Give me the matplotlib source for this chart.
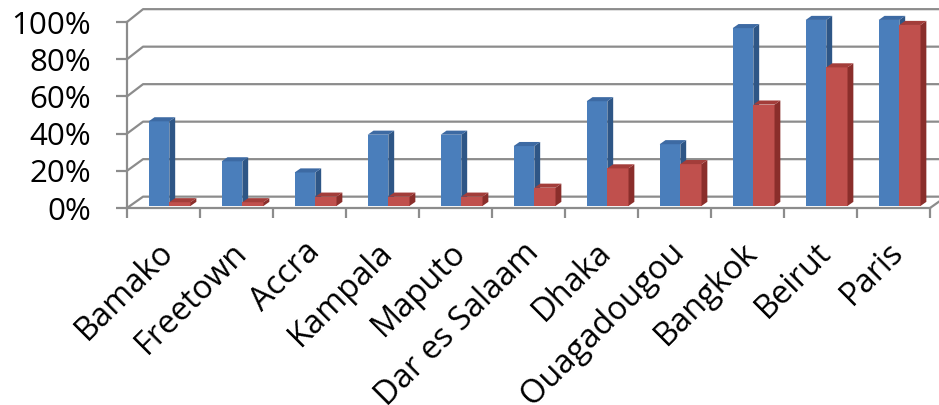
import matplotlib
matplotlib.use("Agg")
import matplotlib.pyplot as plt
from matplotlib.patches import Polygon
from matplotlib.transforms import ScaledTranslation

plt.rcParams['font.family'] = ['Open Sans', 'DejaVu Sans']

# data
cities = ["Bamako", "Freetown", "Accra", "Kampala", "Maputo", "Dar es Salaam",
          "Dhaka", "Ouagadougou", "Bangkok", "Beirut", "Paris"]
series_a = [45.5, 24, 18, 38.3, 38.3, 32.2, 56.3, 33.2, 95.6, 100, 100]
series_b = [2, 2, 5, 5, 5, 9.8, 20.2, 22.5, 54.5, 74.5, 97.3]
yticks = [0, 20, 40, 60, 80, 100]

grey = "#8c8c8c"
blue = ("#4a7ebb", "#2e5686", "#3d6aa3")   # front, side, top
red = ("#c0504d", "#8a2e2b", "#a33d3a")

fig = plt.figure(figsize=(9.39, 4.05), dpi=100)
ax = fig.add_axes([127/939, (405-208)/405, (930-127)/939, (208-22)/405])
ax.set_xlim(0, 11)
ax.set_ylim(0, 100)

# back wall / side wall grid (pseudo 3d)
wx, wy0, wsc = 0.22, 6.1, 1.008
for v in yticks:
    yb = v * wsc + wy0
    ax.plot([0, wx, 11.3], [v, yb, yb], color=grey, lw=1.6,
            clip_on=False, zorder=1, solid_capstyle='butt')
ax.plot([11, 11 + wx], [0, wy0], color=grey, lw=1.6, clip_on=False, zorder=1)

base = 1.1
dx, dy = 0.08, 2.2


def bar3d(x0, w, h, cols):
    front, side, top = cols
    ax.bar(x0, h, width=w, bottom=base, align='edge', color=front,
           edgecolor='none', zorder=3, clip_on=False)
    x1 = x0 + w
    ax.add_patch(Polygon([(x1, base), (x1 + dx, base + dy),
                          (x1 + dx, base + h + dy), (x1, base + h)],
                         closed=True, facecolor=side, edgecolor='none',
                         zorder=3, clip_on=False))
    ax.add_patch(Polygon([(x0, base + h), (x1, base + h),
                          (x1 + dx, base + h + dy), (x0 + dx, base + h + dy)],
                         closed=True, facecolor=top, edgecolor='none',
                         zorder=3, clip_on=False))


for i in range(len(cities)):
    bar3d(i + 0.297, 0.283, series_a[i], blue)
    bar3d(i + 0.58, 0.29, series_b[i], red)

for s in ['top', 'right']:
    ax.spines[s].set_visible(False)
for s in ['left', 'bottom']:
    ax.spines[s].set_color(grey)
    ax.spines[s].set_linewidth(1.6)
    ax.spines[s].set_zorder(4)

ax.set_yticks(yticks)
ax.set_yticklabels([f"{v}%" for v in yticks])
ax.tick_params(axis='y', length=8, width=1.6, color=grey, pad=18,
               labelsize=22.5)

ax.set_xticks(range(len(cities) + 1))
ax.set_xticklabels([])
ax.set_xticks([i + 0.5 for i in range(len(cities))], minor=True)
ax.set_xticklabels(cities, minor=True, rotation=45, ha='right', va='top')
ax.tick_params(axis='x', which='major', length=7, width=1.6, color=grey)
ax.tick_params(axis='x', which='minor', length=0, pad=20, labelsize=23.5)
shift = ScaledTranslation(17/100, 0, fig.dpi_scale_trans)
for lab in ax.get_xticklabels(minor=True):
    lab.set_transform(lab.get_transform() + shift)

fig.savefig("out.png", dpi=100)
